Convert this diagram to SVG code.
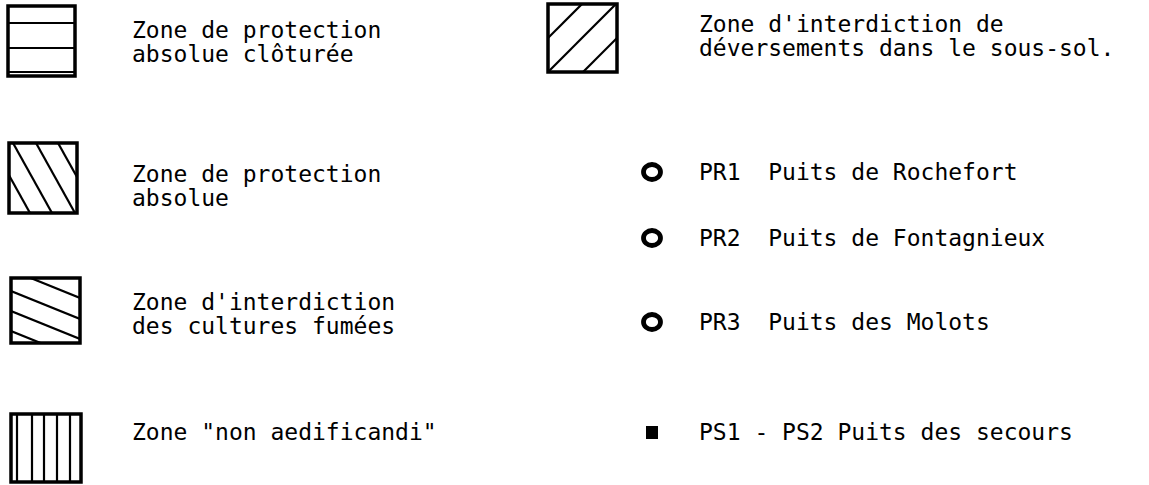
<svg xmlns="http://www.w3.org/2000/svg" width="1149" height="485" viewBox="0 0 1149 485">
<style>
text{font-family:"DejaVu Sans Mono","Liberation Mono",monospace;font-size:23px;fill:#000;white-space:pre}
.box{fill:none;stroke:#000;stroke-width:3.5}
.h{stroke:#000;stroke-width:2.2;fill:none}
.ring{fill:none;stroke:#000;stroke-width:4.8}
</style>
<defs>
<clipPath id="c2"><rect x="9" y="143" width="68" height="70"/></clipPath>
<clipPath id="c3"><rect x="11" y="278" width="69" height="65"/></clipPath>
<clipPath id="c5"><rect x="548" y="4" width="69" height="68"/></clipPath>
</defs>
<rect width="1149" height="485" fill="#fff"/>
<g id="legend-cloturee">
<rect class="box" x="8" y="6" width="67" height="70"/>
<line class="h" x1="8" y1="23" x2="75" y2="23"/>
<line class="h" x1="8" y1="48" x2="75" y2="48"/>
<line class="h" x1="8" y1="72" x2="75" y2="72"/>
<text x="132" y="38">Zone de protection<tspan x="132" y="62">absolue clôturée</tspan></text>
</g>
<g id="legend-absolue">
<rect class="box" x="9" y="143" width="68" height="70"/>
<g clip-path="url(#c2)">
<line class="h" x1="-9" y1="143" x2="30" y2="213"/>
<line class="h" x1="13" y1="143" x2="52" y2="213"/>
<line class="h" x1="36" y1="143" x2="75" y2="213"/>
<line class="h" x1="58" y1="143" x2="97" y2="213"/>
</g>
<text x="132" y="182">Zone de protection<tspan x="132" y="206">absolue</tspan></text>
</g>
<g id="legend-cultures">
<rect class="box" x="11" y="278" width="69" height="65"/>
<g clip-path="url(#c3)">
<line class="h" x1="11" y1="270" x2="80" y2="298"/>
<line class="h" x1="11" y1="291" x2="80" y2="319"/>
<line class="h" x1="11" y1="311" x2="80" y2="339"/>
<line class="h" x1="11" y1="331" x2="80" y2="359"/>
</g>
<text x="132" y="310">Zone d'interdiction<tspan x="132" y="334">des cultures fumées</tspan></text>
</g>
<g id="legend-non-aedificandi">
<rect class="box" x="11" y="414" width="70" height="68"/>
<line class="h" x1="17" y1="414" x2="17" y2="482"/>
<line class="h" x1="32" y1="414" x2="32" y2="482"/>
<line class="h" x1="44" y1="414" x2="44" y2="482"/>
<line class="h" x1="57" y1="414" x2="57" y2="482"/>
<line class="h" x1="70" y1="414" x2="70" y2="482"/>
<text x="132" y="440">Zone "non aedificandi"</text>
</g>
<g id="legend-deversements">
<rect class="box" x="548" y="4" width="69" height="68"/>
<g clip-path="url(#c5)">
<line class="h" x1="548" y1="38" x2="586" y2="0"/>
<line class="h" x1="548" y1="72" x2="620" y2="0"/>
<line class="h" x1="583" y1="72" x2="620" y2="35"/>
</g>
<text x="699" y="32">Zone d'interdiction de<tspan x="699" y="56">déversements dans le sous-sol.</tspan></text>
</g>
<g id="legend-pr1">
<ellipse class="ring" cx="652" cy="172" rx="8.5" ry="7.5"/>
<text x="699" y="180">PR1  Puits de Rochefort</text>
</g>
<g id="legend-pr2">
<ellipse class="ring" cx="652" cy="238" rx="8.5" ry="7.5"/>
<text x="699" y="246">PR2  Puits de Fontagnieux</text>
</g>
<g id="legend-pr3">
<ellipse class="ring" cx="652" cy="322" rx="8.5" ry="7.5"/>
<text x="699" y="330">PR3  Puits des Molots</text>
</g>
<g id="legend-ps">
<rect x="646" y="426" width="12" height="13" fill="#000"/>
<text x="699" y="440">PS1 - PS2 Puits des secours</text>
</g>
</svg>
